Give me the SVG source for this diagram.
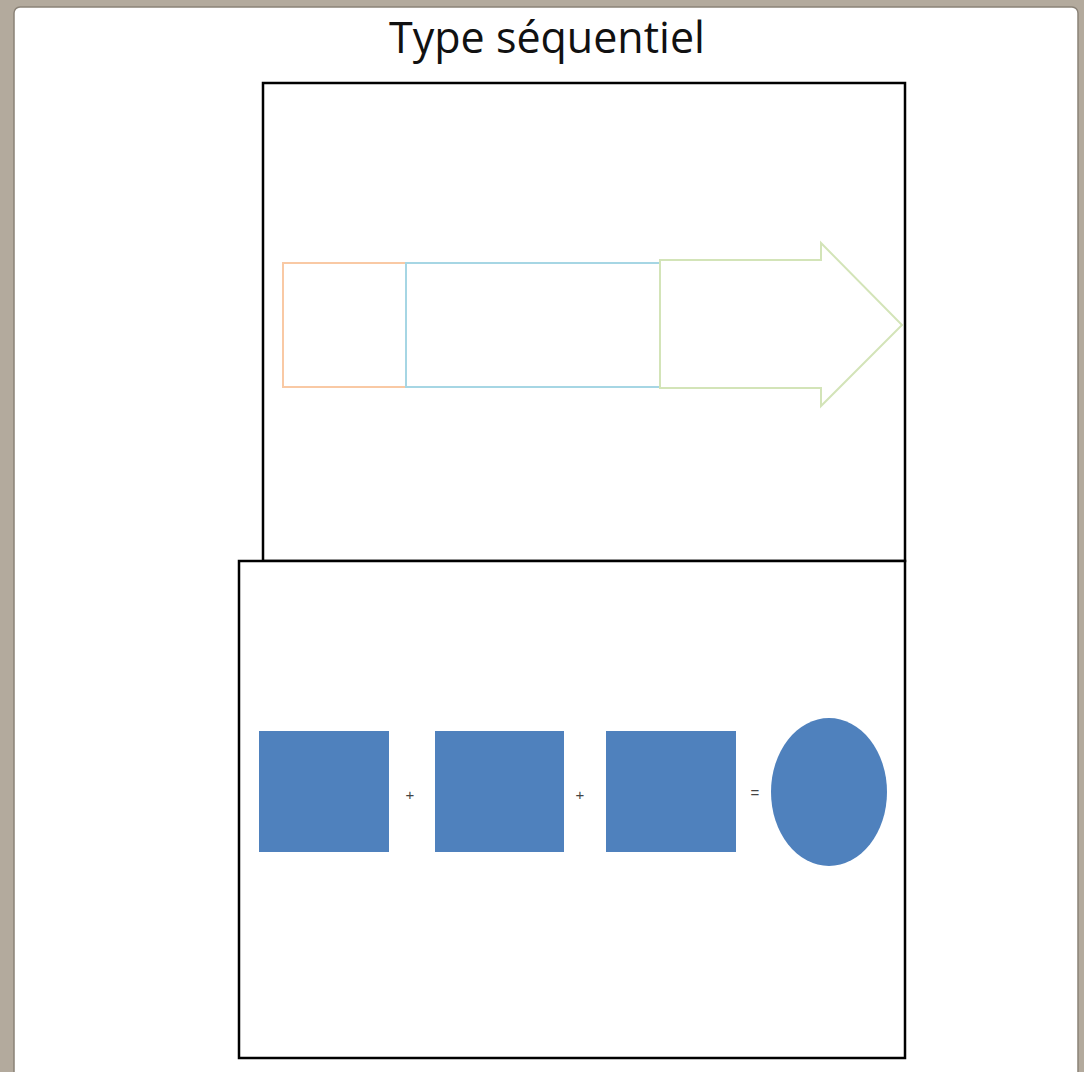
<svg xmlns="http://www.w3.org/2000/svg" width="1084" height="1072" viewBox="0 0 1084 1072">
<style>
.frame{fill:#fff;stroke:#000;stroke-width:2.5}
.sq{fill:#4f81bd}
.op{font-family:"Liberation Sans",Arial,sans-serif;font-size:15px;fill:#444;text-anchor:middle}
</style>
<rect x="0" y="0" width="1084" height="1072" fill="#b3aa9d"/>
<rect x="14" y="7" width="1064" height="1080" rx="6" fill="#fff" stroke="#8a8277" stroke-width="1.5"/>
<text x="547" y="53" font-family="'Open Sans','Noto Sans',sans-serif" font-size="43" fill="#111" text-anchor="middle">Type séquentiel</text>
<g id="top-panel">
<rect class="frame" x="263" y="83" width="642" height="478"/>
<rect x="283" y="263" width="123" height="124" fill="none" stroke="#f9c9a4" stroke-width="2"/>
<rect x="406" y="263" width="254" height="124" fill="none" stroke="#a6d6e4" stroke-width="2"/>
<path d="M660 260 H821 V243 L902 325 L821 406 V388 H660 Z" fill="none" stroke="#d3e4b8" stroke-width="2"/>
</g>
<g id="bottom-panel">
<rect class="frame" x="239" y="561" width="666" height="497"/>
<rect id="sq1" class="sq" x="259" y="731" width="130" height="121"/>
<rect id="sq2" class="sq" x="435" y="731" width="129" height="121"/>
<rect id="sq3" class="sq" x="606" y="731" width="130" height="121"/>
<ellipse id="result" class="sq" cx="829" cy="792" rx="58" ry="74"/>
<text class="op" x="410" y="800">+</text>
<text class="op" x="580" y="800">+</text>
<text class="op" x="755" y="798">=</text>
</g>
</svg>
